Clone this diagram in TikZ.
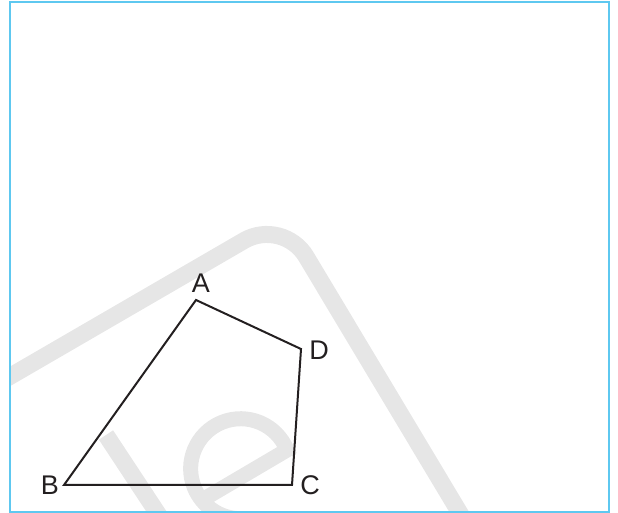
\documentclass[tikz,border=0pt]{standalone}
\usepackage{fontspec}
\setmainfont{Liberation Sans}
\usetikzlibrary{positioning}
\definecolor{celeste}{HTML}{5EC8F0}
\definecolor{marca}{HTML}{E6E6E6}
\definecolor{tinta}{HTML}{231F20}

\begin{document}
\begin{tikzpicture}[x=1pt, y=1pt,
      lbl/.style={inner sep=0pt, anchor=base, text=tinta, font=\fontsize{27}{30}\selectfont},
      wm/.style={draw=marca, line width=17pt},
      lado/.style={draw=tinta, line width=2pt, line join=miter}]
    \useasboundingbox (0,0) rectangle (618,513);

    % marca de agua
    \begin{scope}
      \clip (10,1) rectangle (609,511);
      \draw[wm, rounded corners=45pt] (-10,125) -- (283,295) -- (467,-12);
      \draw[wm] (106,78) -- (164,-10);
      \draw[wm, line width=15pt] (197,10) -- (287,63) arc[start angle=22, end angle=270, radius=50];
    \end{scope}

    \coordinate (A) at (196,213);
    \coordinate (D) at (301,164);
    \coordinate (C) at (292,28);
    \coordinate (B) at (64,28);

    \draw[lado] (A) -- (D) -- (C) -- (B) -- cycle;

    \node[lbl] (lA) at (201,220) {A};
    \node[lbl] (lD) at (319,153) {D};
    \node[lbl] (lC) at (310,18) {C};
    \node[lbl] (lB) at (50,18) {B};

    \draw[celeste, line width=2pt] (10,1) rectangle (609,511);
  \end{tikzpicture}
\end{document}
